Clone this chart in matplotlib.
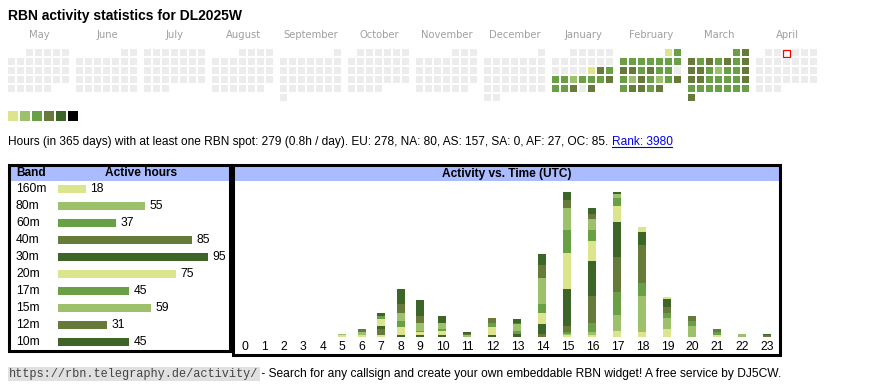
import calendar
import matplotlib
matplotlib.use('Agg')
import matplotlib.pyplot as plt
from matplotlib.patches import Rectangle
from matplotlib import transforms as mtrans

# ---- data ----
callsign = 'DL2025W'
months = [(2024, 5), (2024, 6), (2024, 7), (2024, 8), (2024, 9), (2024, 10),
          (2024, 11), (2024, 12), (2025, 1), (2025, 2), (2025, 3), (2025, 4)]
today = (2025, 4, 3)

# activity level per day (0 = none)
jan_levels = [0] * 16 + [1, 4, 3, 3, 3, 2, 3, 3, 3, 4, 3, 3, 4, 0, 4]
feb_levels = [1, 3, 3, 3, 3, 3, 3, 3, 3, 4, 4, 3, 4, 3, 3, 0,
              3, 2, 4, 3, 2, 3, 4, 3, 4, 4, 3, 4]
mar_levels = [3, 4, 4, 3, 4, 3, 4, 3, 4, 4, 4, 3, 2, 3, 3, 4,
              4, 4, 3, 3, 3, 3, 4, 3, 3, 3, 3, 3, 3, 3, 4]
active = {(2025, 1): jan_levels, (2025, 2): feb_levels, (2025, 3): mar_levels}

level_colors = ['#dce48c', '#9dc16b', '#6aa045', '#667a3a', '#3d6528', '#000000']
empty_color = '#ececec'

bands = ['160m', '80m', '60m', '40m', '30m', '20m', '17m', '15m', '12m', '10m']
band_hours = [18, 55, 37, 85, 95, 75, 45, 59, 31, 45]
band_colors = ['#dce48c', '#9dc16b', '#6aa045', '#667a3a', '#3d6528',
               '#dce48c', '#6aa045', '#9dc16b', '#667a3a', '#3d6528']

hours = list(range(24))
h160 = [0, 0, 0, 0, 0, 1, 1, 1, 0, 0, 0, 0, 0, 0, 0, 1, 1, 4, 3, 5, 0, 1, 0, 0]
h80 = [0, 0, 0, 0, 0, 1, 2, 0, 0, 0, 0, 0, 0, 0, 0, 1, 2, 10, 23, 7, 7, 0, 2, 0]
h60 = [0, 0, 0, 0, 0, 0, 0, 0, 0, 0, 0, 0, 0, 0, 0, 1, 6, 14, 8, 3, 3, 2, 0, 0]
h40 = [0, 0, 0, 0, 0, 0, 2, 4, 0, 0, 0, 0, 0, 0, 2, 4, 17, 22, 24, 4, 3, 2, 0, 1]
h30 = [0, 0, 0, 0, 0, 0, 0, 2, 1, 1, 1, 0, 1, 2, 6, 23, 22, 22, 8, 5, 0, 0, 0, 1]
h20 = [0, 0, 0, 0, 0, 0, 0, 4, 5, 2, 3, 0, 5, 0, 7, 23, 12, 10, 3, 1, 0, 0, 0, 0]
h17 = [0, 0, 0, 0, 0, 0, 0, 2, 4, 1, 1, 0, 3, 2, 6, 14, 7, 5, 0, 0, 0, 0, 0, 0]
h15 = [0, 0, 0, 0, 0, 0, 0, 0, 5, 5, 4, 1, 0, 4, 16, 14, 7, 3, 0, 0, 0, 0, 0, 0]
h12 = [0, 0, 0, 0, 0, 0, 0, 0, 6, 4, 0, 1, 3, 1, 8, 5, 3, 0, 0, 0, 0, 0, 0, 0]
h10 = [0, 0, 0, 0, 0, 0, 0, 2, 9, 10, 4, 1, 0, 2, 7, 5, 4, 1, 0, 0, 0, 0, 0, 0]
hourly = [h160, h80, h60, h40, h30, h20, h17, h15, h12, h10]

stats = ('Hours (in 365 days) with at least one RBN spot: 279 (0.8h / day). '
         'EU: 278, NA: 80, AS: 157, SA: 0, AF: 27, OC: 85. ')
rank = 'Rank: 3980'
url = 'https://rbn.telegraphy.de/activity/'
footer = ' - Search for any callsign and create your own embeddable RBN widget! A free service by DJ5CW.'

# ---- figure ----
W, H = 870, 390
plt.rcParams['font.family'] = ['Liberation Sans', 'DejaVu Sans']
fig = plt.figure(figsize=(W / 100, H / 100), dpi=100)
bg = fig.add_axes([0, 0, 1, 1])
bg.set_xlim(0, W)
bg.set_ylim(H, 0)
bg.axis('off')


def px_axes(x0, y0, x1, y1):
    return fig.add_axes([x0 / W, 1 - y1 / H, (x1 - x0) / W, (y1 - y0) / H])


bg.text(8, 16, 'RBN activity statistics for ' + callsign, fontsize=10.0,
        fontweight='bold', va='center', ha='left')

# calendar
for mi, (yy, mm) in enumerate(months):
    bx = 8 + 68 * mi
    bg.text(bx + 31, 35, calendar.month_name[mm], family='DejaVu Sans',
            fontsize=7.2, color='#a0a0a0', ha='center', va='center')
    first_wd, ndays = calendar.monthrange(yy, mm)
    levels = active.get((yy, mm), [0] * ndays)
    for d in range(ndays):
        k = first_wd + d
        x = bx + 9 * (k % 7)
        y = 49 + 9 * (k // 7)
        lv = levels[d]
        fc = level_colors[lv - 1] if lv else empty_color
        if (yy, mm, d + 1) == today:
            bg.add_patch(Rectangle((x + 0.5, y + 0.5), 7, 7, facecolor='white',
                                   edgecolor='red', lw=0.9))
        else:
            bg.add_patch(Rectangle((x, y), 7, 7, facecolor=fc, lw=0))

for i, c in enumerate(level_colors):
    bg.add_patch(Rectangle((8 + 12 * i, 111), 10, 10, facecolor=c, lw=0))

t1 = bg.text(8, 142, stats, fontsize=8.6, va='center', ha='left')
t2 = bg.annotate(rank, xy=(1, 0.5), xycoords=t1, fontsize=8.6, va='center',
                 ha='left', color='#0000ee')

# table + chart frames
bg.add_patch(Rectangle((10, 165), 221, 16, facecolor='#aabbff', lw=0))
bg.add_patch(Rectangle((234, 165), 546, 16, facecolor='#aabbff', lw=0))
bg.add_patch(Rectangle((9.5, 164.5), 221, 186, fill=False, edgecolor='black', lw=2.2))
bg.add_patch(Rectangle((233.5, 164.5), 547, 190, fill=False, edgecolor='black', lw=2.2))
bg.text(16, 173.5, 'Band', fontsize=8.6, fontweight='bold', va='center', ha='left')
bg.text(141, 173.5, 'Active hours', fontsize=8.6, fontweight='bold', va='center', ha='center')
bg.text(507, 173.5, 'Activity vs. Time (UTC)', fontsize=8.6, fontweight='bold',
        va='center', ha='center')

# band bars
axb = px_axes(58, 180.5, 208, 350.5)
axb.barh(range(len(bands)), band_hours, height=0.42, color=band_colors)
axb.set_xlim(0, max(band_hours))
axb.set_ylim(len(bands) - 0.5, -0.5)
axb.axis('off')
lab_tr = mtrans.blended_transform_factory(bg.transData, axb.transData)
for i, (b, v) in enumerate(zip(bands, band_hours)):
    axb.text(16, i, b, transform=lab_tr, fontsize=8.7, va='center', ha='left')
    axb.annotate(str(v), xy=(v, i), xytext=(3, 0), textcoords='offset points',
                 fontsize=8.7, va='center', ha='left', annotation_clip=False)

# hourly stacked bars, column width follows the label width
col_w = [14 + 5.5 * len(str(h)) for h in hours]
centers = []
acc = 0
for w in col_w:
    centers.append(acc + w / 2)
    acc += w
totals = [sum(col) for col in zip(*hourly)]
axh = px_axes(235, 192, 780, 337)
bottom = [0] * 24
for vals, c in zip(hourly, band_colors):
    axh.bar(centers, vals, width=8, bottom=bottom, color=c, lw=0)
    bottom = [b + v for b, v in zip(bottom, vals)]
axh.set_xlim(0, acc)
axh.set_ylim(0, max(totals))
axh.set_xticks(centers, [str(h) for h in hours], fontsize=8.7)
axh.tick_params(axis='x', length=0, pad=3)
axh.set_yticks([])
for s in axh.spines.values():
    s.set_visible(False)
axh.patch.set_alpha(0)

# footer
t3 = bg.text(9, 374, url, family='Liberation Mono', fontsize=8.6, va='center',
             ha='left', color='#444444',
             bbox=dict(boxstyle='square,pad=0.12', facecolor='#e0e0e0', lw=0))
bg.annotate(footer, xy=(1, 0.5), xycoords=t3, fontsize=8.65, va='center', ha='left')

# underline for the rank link
fig.canvas.draw()
bb = t2.get_window_extent().transformed(bg.transData.inverted())
bg.plot([bb.x0, bb.x1], [bb.y0 - 1.5, bb.y0 - 1.5], color='#0000ee', lw=0.8)

fig.savefig('out.png', dpi=100)
